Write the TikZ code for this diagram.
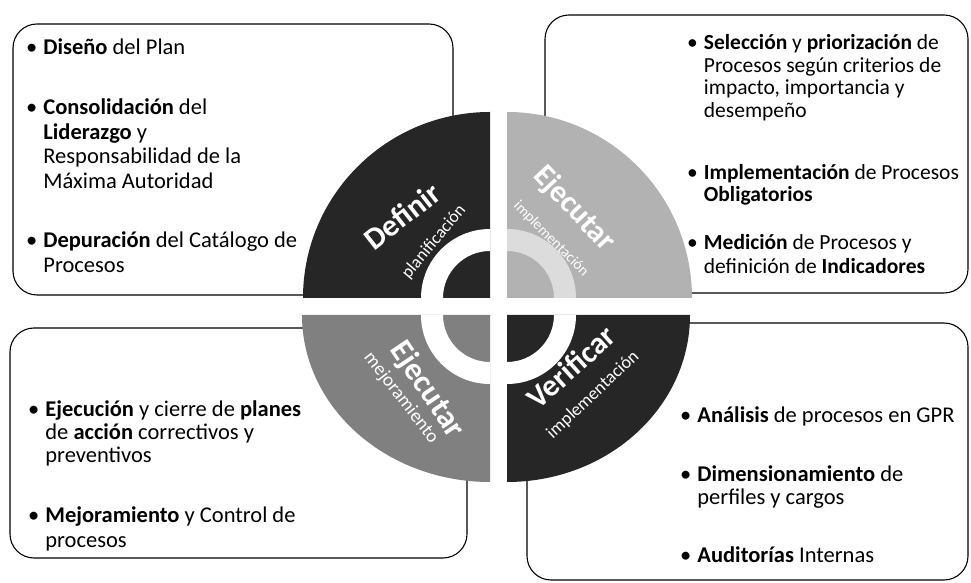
\documentclass[tikz,border=0pt]{standalone}
\usepackage{fontspec}
\setmainfont{Carlito}
\newcommand{\bulitem}[1]{\textbullet\hspace{6pt}\begin{tabular}[t]{@{}l@{}}#1\end{tabular}}
\begin{document}
\begin{tikzpicture}[x=1pt,y=1pt,
box/.style={%
draw,
line width=1.1pt,
rounded corners=24pt,
},
item/.style={%
anchor=base west,
inner sep=0pt,
font=\fontsize{22.5}{24.5}\selectfont,
},
big/.style={%
text=white,
inner sep=0pt,
font=\fontsize{31}{32}\selectfont\bfseries,
},
small/.style={%
text=white,
inner sep=0pt,
font=\fontsize{17.5}{18}\selectfont,
},
]
\useasboundingbox (0,0) rectangle (971,583);
%% Boxes
\draw[box] (13,288) rectangle (453,559);
\draw[box] (545,290) rectangle (968,568);
\draw[box] (10,25) rectangle (467,255);
\draw[box] (527,3) rectangle (968,260);
%% Box texts
\node[item]at(26,528)(d1){\bulitem{\textbf{Diseño} del Plan}};
\node[item]at(26,468)(d2){\bulitem{\textbf{Consolidación} del\\ \textbf{Liderazgo} y\\ Responsabilidad de la\\ Máxima Autoridad}};
\node[item]at(26,335)(d3){\bulitem{\textbf{Depuración} del Catálogo de\\ Procesos}};
\node[item,font=\fontsize{21.5}{22.5}\selectfont]at(687,533)(e1){\bulitem{\textbf{Selección} y \textbf{priorización} de\\ Procesos según criterios de\\ impacto, importancia y\\ desempeño}};
\node[item,font=\fontsize{21.5}{20}\selectfont]at(687,403)(e2){\bulitem{\textbf{Implementación} de Procesos\\ \textbf{Obligatorios}}};
\node[item,font=\fontsize{21.5}{24}\selectfont]at(687,333)(e3){\bulitem{\textbf{Medición} de Procesos y\\ definición de \textbf{Indicadores}}};
\node[item,font=\fontsize{22.5}{23}\selectfont]at(28,166)(m1){\bulitem{\textbf{Ejecución} y cierre de \textbf{planes}\\ de \textbf{acción} correctivos y\\ preventivos}};
\node[item,font=\fontsize{22.5}{25}\selectfont]at(28,60)(m2){\bulitem{\textbf{Mejoramiento} y Control de\\ procesos}};
\node[item,font=\fontsize{22.5}{23}\selectfont]at(680,160)(v1){\bulitem{\textbf{Análisis} de procesos en GPR}};
\node[item,font=\fontsize{22.5}{23}\selectfont]at(680,101)(v2){\bulitem{\textbf{Dimensionamiento} de\\ perfiles y cargos}};
\node[item,font=\fontsize{22.5}{23}\selectfont]at(680,20)(v3){\bulitem{\textbf{Auditorías} Internas}};
%% Quadrants
\fill[black!85] (490,285)--++(-187,0) arc[start angle=180,end angle=90,x radius=187,y radius=186]--cycle;
\fill[black!30] (507,285)--++(0,186) arc[start angle=90,end angle=0,x radius=185,y radius=186]--cycle;
\fill[black!50] (490,268)--++(0,-167) arc[start angle=270,end angle=180,x radius=188,y radius=167]--cycle;
\fill[black!85] (507,268)--++(183,0) arc[start angle=0,end angle=-90,x radius=183,y radius=167]--cycle;
%% Ring
\fill[white] (490,285)++(-69,0) arc[start angle=180,end angle=90,radius=69]--++(0,-22) arc[start angle=90,end angle=180,radius=47]--cycle;
\fill[white,opacity=.55] (507,285)++(0,69) arc[start angle=90,end angle=0,radius=69]--++(-22,0) arc[start angle=0,end angle=90,radius=47]--cycle;
\fill[white] (490,268)++(0,-69) arc[start angle=270,end angle=180,radius=69]--++(22,0) arc[start angle=180,end angle=270,radius=47]--cycle;
\fill[white] (507,268)++(69,0) arc[start angle=0,end angle=-90,radius=69]--++(0,22) arc[start angle=-90,end angle=0,radius=47]--cycle;
%% Quadrant labels
\node[big,rotate=38]at(402,367)(q1){Definir};
\node[small,rotate=50]at(434,341)(q1s){planificación};
\node[big,rotate=-47]at(574,374)(q2){Ejecutar};
\node[small,rotate=-45,font=\fontsize{15}{16}\selectfont]at(551,344)(q2s){implementación};
\node[big,rotate=-56,font=\fontsize{32}{33}\selectfont\bfseries]at(427,193)(q3){Ejecutar};
\node[small,rotate=-52,font=\fontsize{19}{20}\selectfont]at(401,185)(q3s){mejoramiento};
\node[big,rotate=42]at(571,216)(q4){Verificar};
\node[small,rotate=43,font=\fontsize{18}{19}\selectfont]at(593,188)(q4s){implementación};
\end{tikzpicture}
\end{document}
